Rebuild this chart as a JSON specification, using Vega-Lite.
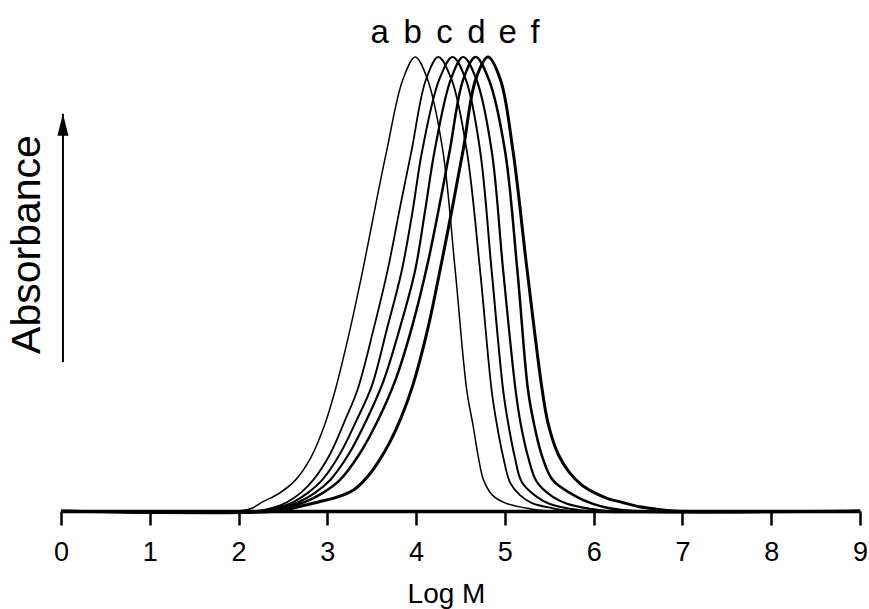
{
  "$schema": "https://vega.github.io/schema/vega-lite/v6.json",
  "width": 799,
  "height": 454,
  "autosize": "none",
  "padding": {"left": 61, "top": 57, "right": 9, "bottom": 98},
  "background": "white",
  "config": {"view": {"stroke": null}, "font": "Liberation Sans"},
  "datasets": {
    "curves": [
      {"series":"a","logM":0,"abs":0},{"series":"a","logM":2.0,"abs":0},{"series":"a","logM":2.15,"abs":0.006},{"series":"a","logM":2.27,"abs":0.02},{"series":"a","logM":2.45,"abs":0.038},{"series":"a","logM":2.64,"abs":0.068},{"series":"a","logM":2.82,"abs":0.12},{"series":"a","logM":2.97,"abs":0.19},{"series":"a","logM":3.09,"abs":0.267},{"series":"a","logM":3.25,"abs":0.395},{"series":"a","logM":3.4,"abs":0.531},{"series":"a","logM":3.55,"abs":0.68},{"series":"a","logM":3.67,"abs":0.795},{"series":"a","logM":3.85,"abs":0.95},{"series":"a","logM":3.99,"abs":1.0},{"series":"a","logM":4.13,"abs":0.95},{"series":"a","logM":4.3,"abs":0.795},{"series":"a","logM":4.44,"abs":0.531},{"series":"a","logM":4.57,"abs":0.267},{"series":"a","logM":4.64,"abs":0.19},{"series":"a","logM":4.7,"abs":0.12},{"series":"a","logM":4.76,"abs":0.068},{"series":"a","logM":4.86,"abs":0.035},{"series":"a","logM":5.0,"abs":0.018},{"series":"a","logM":5.28,"abs":0.005},{"series":"a","logM":5.5,"abs":0},{"series":"a","logM":9,"abs":0},
      {"series":"b","logM":0,"abs":0},{"series":"b","logM":2.2,"abs":0},{"series":"b","logM":2.4,"abs":0.008},{"series":"b","logM":2.55,"abs":0.02},{"series":"b","logM":2.7,"abs":0.04},{"series":"b","logM":2.84,"abs":0.068},{"series":"b","logM":3.03,"abs":0.125},{"series":"b","logM":3.2,"abs":0.2},{"series":"b","logM":3.34,"abs":0.267},{"series":"b","logM":3.52,"abs":0.4},{"series":"b","logM":3.68,"abs":0.531},{"series":"b","logM":3.82,"abs":0.67},{"series":"b","logM":3.95,"abs":0.795},{"series":"b","logM":4.11,"abs":0.95},{"series":"b","logM":4.25,"abs":1.0},{"series":"b","logM":4.4,"abs":0.95},{"series":"b","logM":4.57,"abs":0.795},{"series":"b","logM":4.72,"abs":0.531},{"series":"b","logM":4.85,"abs":0.267},{"series":"b","logM":4.91,"abs":0.19},{"series":"b","logM":4.98,"abs":0.12},{"series":"b","logM":5.06,"abs":0.062},{"series":"b","logM":5.17,"abs":0.035},{"series":"b","logM":5.3,"abs":0.018},{"series":"b","logM":5.54,"abs":0.006},{"series":"b","logM":5.75,"abs":0},{"series":"b","logM":9,"abs":0},
      {"series":"c","logM":0,"abs":0},{"series":"c","logM":2.25,"abs":0},{"series":"c","logM":2.45,"abs":0.008},{"series":"c","logM":2.62,"abs":0.02},{"series":"c","logM":2.78,"abs":0.04},{"series":"c","logM":2.94,"abs":0.068},{"series":"c","logM":3.14,"abs":0.125},{"series":"c","logM":3.33,"abs":0.2},{"series":"c","logM":3.5,"abs":0.275},{"series":"c","logM":3.67,"abs":0.4},{"series":"c","logM":3.84,"abs":0.531},{"series":"c","logM":3.96,"abs":0.66},{"series":"c","logM":4.07,"abs":0.795},{"series":"c","logM":4.26,"abs":0.95},{"series":"c","logM":4.41,"abs":1.0},{"series":"c","logM":4.56,"abs":0.95},{"series":"c","logM":4.72,"abs":0.795},{"series":"c","logM":4.85,"abs":0.531},{"series":"c","logM":4.98,"abs":0.267},{"series":"c","logM":5.04,"abs":0.19},{"series":"c","logM":5.11,"abs":0.12},{"series":"c","logM":5.19,"abs":0.064},{"series":"c","logM":5.36,"abs":0.031},{"series":"c","logM":5.5,"abs":0.016},{"series":"c","logM":5.73,"abs":0.005},{"series":"c","logM":5.95,"abs":0},{"series":"c","logM":9,"abs":0},
      {"series":"d","logM":0,"abs":0},{"series":"d","logM":2.3,"abs":0},{"series":"d","logM":2.5,"abs":0.008},{"series":"d","logM":2.68,"abs":0.02},{"series":"d","logM":2.86,"abs":0.04},{"series":"d","logM":3.03,"abs":0.068},{"series":"d","logM":3.24,"abs":0.125},{"series":"d","logM":3.44,"abs":0.2},{"series":"d","logM":3.63,"abs":0.285},{"series":"d","logM":3.82,"abs":0.405},{"series":"d","logM":3.99,"abs":0.531},{"series":"d","logM":4.1,"abs":0.66},{"series":"d","logM":4.21,"abs":0.795},{"series":"d","logM":4.39,"abs":0.95},{"series":"d","logM":4.53,"abs":1.0},{"series":"d","logM":4.68,"abs":0.95},{"series":"d","logM":4.85,"abs":0.795},{"series":"d","logM":4.98,"abs":0.531},{"series":"d","logM":5.12,"abs":0.267},{"series":"d","logM":5.18,"abs":0.19},{"series":"d","logM":5.26,"abs":0.12},{"series":"d","logM":5.36,"abs":0.064},{"series":"d","logM":5.54,"abs":0.031},{"series":"d","logM":5.7,"abs":0.016},{"series":"d","logM":5.95,"abs":0.005},{"series":"d","logM":6.15,"abs":0},{"series":"d","logM":9,"abs":0},
      {"series":"e","logM":0,"abs":0},{"series":"e","logM":2.35,"abs":0},{"series":"e","logM":2.55,"abs":0.008},{"series":"e","logM":2.75,"abs":0.02},{"series":"e","logM":2.95,"abs":0.04},{"series":"e","logM":3.14,"abs":0.068},{"series":"e","logM":3.36,"abs":0.125},{"series":"e","logM":3.57,"abs":0.2},{"series":"e","logM":3.77,"abs":0.29},{"series":"e","logM":3.96,"abs":0.41},{"series":"e","logM":4.13,"abs":0.545},{"series":"e","logM":4.26,"abs":0.67},{"series":"e","logM":4.38,"abs":0.795},{"series":"e","logM":4.53,"abs":0.95},{"series":"e","logM":4.67,"abs":1.0},{"series":"e","logM":4.82,"abs":0.95},{"series":"e","logM":5.0,"abs":0.795},{"series":"e","logM":5.14,"abs":0.531},{"series":"e","logM":5.26,"abs":0.267},{"series":"e","logM":5.33,"abs":0.19},{"series":"e","logM":5.42,"abs":0.12},{"series":"e","logM":5.54,"abs":0.068},{"series":"e","logM":5.81,"abs":0.031},{"series":"e","logM":6.0,"abs":0.015},{"series":"e","logM":6.18,"abs":0.006},{"series":"e","logM":6.45,"abs":0},{"series":"e","logM":9,"abs":0},
      {"series":"f","logM":0,"abs":0},{"series":"f","logM":2.45,"abs":0},{"series":"f","logM":2.65,"abs":0.008},{"series":"f","logM":2.9,"abs":0.02},{"series":"f","logM":3.1,"abs":0.03},{"series":"f","logM":3.3,"abs":0.047},{"series":"f","logM":3.45,"abs":0.075},{"series":"f","logM":3.58,"abs":0.11},{"series":"f","logM":3.7,"abs":0.15},{"series":"f","logM":3.83,"abs":0.205},{"series":"f","logM":3.96,"abs":0.275},{"series":"f","logM":4.13,"abs":0.4},{"series":"f","logM":4.27,"abs":0.531},{"series":"f","logM":4.4,"abs":0.66},{"series":"f","logM":4.53,"abs":0.795},{"series":"f","logM":4.67,"abs":0.95},{"series":"f","logM":4.81,"abs":1.0},{"series":"f","logM":4.95,"abs":0.95},{"series":"f","logM":5.09,"abs":0.795},{"series":"f","logM":5.25,"abs":0.531},{"series":"f","logM":5.42,"abs":0.267},{"series":"f","logM":5.49,"abs":0.19},{"series":"f","logM":5.6,"abs":0.125},{"series":"f","logM":5.73,"abs":0.084},{"series":"f","logM":5.85,"abs":0.06},{"series":"f","logM":5.92,"abs":0.05},{"series":"f","logM":5.99,"abs":0.042},{"series":"f","logM":6.15,"abs":0.028},{"series":"f","logM":6.3,"abs":0.02},{"series":"f","logM":6.5,"abs":0.01},{"series":"f","logM":6.71,"abs":0.004},{"series":"f","logM":6.9,"abs":0},{"series":"f","logM":9,"abs":0}
    ],
    "labels": [
      {"label":"a","logM":3.59,"abs":1.031},
      {"label":"b","logM":3.96,"abs":1.031},
      {"label":"c","logM":4.32,"abs":1.031},
      {"label":"d","logM":4.68,"abs":1.031},
      {"label":"e","logM":5.03,"abs":1.031},
      {"label":"f","logM":5.34,"abs":1.031}
    ],
    "arrow": [
      {"logM":0.022,"abs":0.328,"abs2":0.875}
    ]
  },
  "layer": [
    {
      "data": {"name": "curves"},
      "mark": {"type": "line", "interpolate": "catmull-rom", "color": "black"},
      "encoding": {
        "x": {
          "field": "logM", "type": "quantitative",
          "scale": {"domain": [0, 9], "nice": false, "zero": false},
          "axis": {
            "title": "Log M", "values": [0,1,2,3,4,5,6,7,8,9], "format": "d",
            "grid": false, "domainColor": "black", "domainWidth": 3.5,
            "tickColor": "black", "tickWidth": 2.5, "tickSize": 14,
            "labelFontSize": 27, "labelColor": "black", "labelPadding": 14,
            "labelFlush": false, "labelOverlap": false, "labelBaseline": "top",
            "titleFontSize": 28, "titleFontWeight": "normal", "titleColor": "black",
            "titleX": 385, "titleY": 69, "titleBaseline": "top", "titleAlign": "center"
          }
        },
        "y": {
          "field": "abs", "type": "quantitative",
          "scale": {"domain": [0, 1], "nice": false},
          "axis": {
            "title": "Absorbance", "domain": false, "ticks": false, "labels": false, "grid": false,
            "titleFontSize": 41, "titleFontWeight": "normal", "titleColor": "black",
            "titleAngle": -90, "titleX": -34, "titleY": 187, "titleAlign": "center", "titleBaseline": "middle"
          }
        },
        "strokeWidth": {
          "field": "series", "type": "nominal",
          "scale": {"type": "ordinal", "domain": ["a","b","c","d","e","f"], "range": [1.5,1.8,2.0,2.2,2.5,3.0]},
          "legend": null
        }
      }
    },
    {
      "data": {"name": "labels"},
      "mark": {"type": "text", "fontSize": 33, "color": "black", "align": "center", "baseline": "alphabetic"},
      "encoding": {
        "x": {"field": "logM", "type": "quantitative"},
        "y": {"field": "abs", "type": "quantitative"},
        "text": {"field": "label"}
      }
    },
    {
      "data": {"name": "arrow"},
      "mark": {"type": "rule", "color": "black", "strokeWidth": 2},
      "encoding": {
        "x": {"field": "logM", "type": "quantitative"},
        "y": {"field": "abs", "type": "quantitative"},
        "y2": {"field": "abs2"}
      }
    },
    {
      "data": {"name": "arrow"},
      "mark": {"type": "point", "filled": true, "color": "black", "opacity": 1, "shape": "M0,0L0.5,2L-0.5,2Z", "size": 484, "strokeWidth": 0},
      "encoding": {
        "x": {"field": "logM", "type": "quantitative"},
        "y": {"field": "abs2", "type": "quantitative"}
      }
    }
  ]
}
